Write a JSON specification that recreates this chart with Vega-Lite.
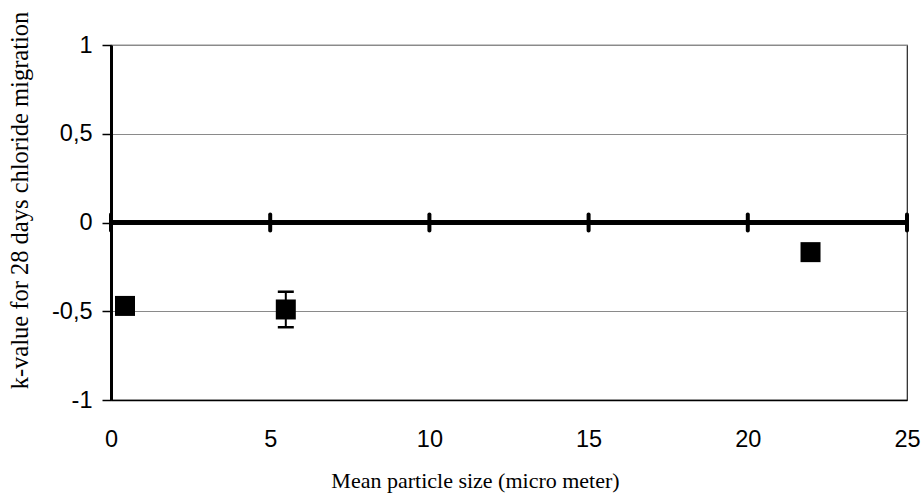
{
  "$schema": "https://vega.github.io/schema/vega-lite/v6.json",
  "width": 796,
  "height": 355,
  "autosize": "none",
  "padding": {"left": 111, "top": 45, "right": 15, "bottom": 93},
  "background": "white",
  "config": {
    "view": {"stroke": "#222", "strokeWidth": 1.2},
    "axis": {"labelFont": "Liberation Sans", "labelFontSize": 23.5, "labelColor": "black", "titleFont": "Liberation Serif", "titleFontSize": 22, "titleFontWeight": "normal", "titleColor": "black"}
  },
  "datasets": {
    "pts": [
      {"size_um": 0.44, "k": -0.47},
      {"size_um": 5.49, "k": -0.49},
      {"size_um": 21.97, "k": -0.167}
    ],
    "err": [
      {"size_um": 5.49, "lo": -0.59, "hi": -0.39}
    ],
    "zero": [
      {"size_um": 0, "k": 0},
      {"size_um": 5, "k": 0},
      {"size_um": 10, "k": 0},
      {"size_um": 15, "k": 0},
      {"size_um": 20, "k": 0},
      {"size_um": 25, "k": 0}
    ]
  },
  "layer": [
    {
      "data": {"name": "zero"},
      "mark": {"type": "rule", "color": "black", "strokeWidth": 4},
      "encoding": {
        "y": {"datum": 0, "type": "quantitative", "scale": {"domain": [-1, 1]}, "title": "k-value for 28 days chloride migration",
          "axis": {"values": [-1, -0.5, 0, 0.5, 1], "labelExpr": "replace(toString(datum.value), '.', ',')", "domainColor": "black", "domainWidth": 3, "tickColor": "black", "tickSize": 9, "tickWidth": 1.5, "labelPadding": 10, "grid": true, "gridColor": "#8a8a8a", "gridWidth": 1,
            "titleFontSize": 24.5, "titleAngle": -90, "titleX": -91, "titleY": 155, "titleAnchor": "middle", "titleBaseline": "middle", "titleAlign": "center"}
        }
      }
    },
    {
      "data": {"name": "zero"},
      "mark": {"type": "tick", "orient": "vertical", "color": "black", "opacity": 1, "size": 20, "thickness": 4, "cornerRadius": 2},
      "encoding": {
        "x": {"field": "size_um", "type": "quantitative", "scale": {"domain": [0, 25], "nice": false}, "title": "Mean particle size (micro meter)",
          "axis": {"values": [0, 5, 10, 15, 20, 25], "ticks": false, "grid": false, "labelFlush": false, "domainColor": "black", "domainWidth": 1.5, "labelPadding": 27,
            "titleX": 364, "titleY": 80, "titleAnchor": "middle", "titleBaseline": "middle", "titleAlign": "center"}
        },
        "y": {"field": "k", "type": "quantitative", "title": "k-value for 28 days chloride migration"}
      }
    },
    {
      "data": {"name": "err"},
      "mark": {"type": "rule", "color": "black", "strokeWidth": 2},
      "encoding": {
        "x": {"field": "size_um", "type": "quantitative", "title": "Mean particle size (micro meter)"},
        "y": {"field": "lo", "type": "quantitative", "title": "k-value for 28 days chloride migration"},
        "y2": {"field": "hi"}
      }
    },
    {
      "data": {"name": "err"},
      "mark": {"type": "tick", "orient": "horizontal", "color": "black", "opacity": 1, "size": 16, "thickness": 2.5},
      "encoding": {
        "x": {"field": "size_um", "type": "quantitative", "title": "Mean particle size (micro meter)"},
        "y": {"field": "lo", "type": "quantitative", "title": "k-value for 28 days chloride migration"}
      }
    },
    {
      "data": {"name": "err"},
      "mark": {"type": "tick", "orient": "horizontal", "color": "black", "opacity": 1, "size": 16, "thickness": 2.5},
      "encoding": {
        "x": {"field": "size_um", "type": "quantitative", "title": "Mean particle size (micro meter)"},
        "y": {"field": "hi", "type": "quantitative", "title": "k-value for 28 days chloride migration"}
      }
    },
    {
      "data": {"name": "pts"},
      "mark": {"type": "point", "shape": "square", "filled": true, "color": "black", "opacity": 1, "size": 400},
      "encoding": {
        "x": {"field": "size_um", "type": "quantitative", "title": "Mean particle size (micro meter)"},
        "y": {"field": "k", "type": "quantitative", "title": "k-value for 28 days chloride migration"}
      }
    }
  ]
}
